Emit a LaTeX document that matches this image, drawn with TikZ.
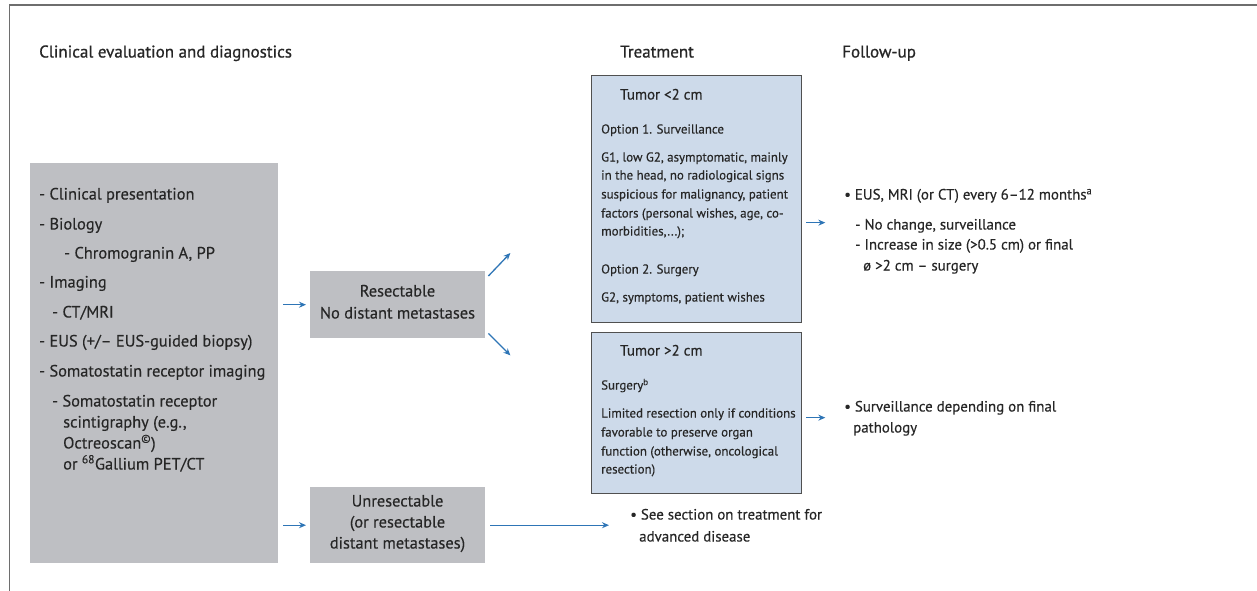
\documentclass[tikz,border=0pt]{standalone}
\usepackage{fontspec}
\setmainfont{PT Sans}[FakeBold=0.35]
\newfontfamily\hdrfont{PT Sans}[FakeBold=0.8]
\usetikzlibrary{arrows.meta}
\definecolor{txt}{HTML}{262626}
\definecolor{greyfill}{HTML}{BEBFC3}
\definecolor{bluefill}{HTML}{CDDAEA}
\definecolor{boxline}{HTML}{505050}
\definecolor{arrblue}{HTML}{2E75B6}
\definecolor{framec}{HTML}{6E6E6E}
\tikzset{
  greybox/.style={fill=greyfill, draw=none, anchor=north west, inner sep=0pt},
  bluebox/.style={fill=bluefill, draw=boxline, line width=1.3pt, anchor=north west, inner sep=0pt},
  lt/.style={anchor=mid west, inner sep=0pt, text=txt},
  hdrtxt/.style={lt, font=\hdrfont\fontsize{17}{20}\selectfont},
  lefttxt/.style={lt, font=\fontsize{16.4}{19}\selectfont},
  ctrtxt/.style={anchor=mid, inner sep=0pt, text=txt, font=\fontsize{16.4}{19}\selectfont},
  titletxt/.style={lt, font=\fontsize{14.9}{17}\selectfont},
  boxtxt/.style={lt, font=\fontsize{12.9}{15}\selectfont},
  futxt/.style={lt, font=\fontsize{14.9}{17}\selectfont},
  arr/.style={draw=arrblue, line width=1.3pt, -{Stealth[length=7pt,width=6pt]}},
  framestyle/.style={draw=framec, line width=1.5pt}
}
\begin{document}
\begin{tikzpicture}[x=1pt,y=-1pt]
\useasboundingbox (0,0) rectangle (1257,591);
% frame
\draw[framestyle] (9.5,591) -- (9.5,5) -- (1257,5);

% headers
\node[hdrtxt] (h1) at (39,55) {Clinical evaluation and diagnostics};
\node[hdrtxt] (h2) at (620,55) {Treatment};
\node[hdrtxt] (h3) at (842,55) {Follow-up};

% boxes
\node[greybox, minimum width=248pt, minimum height=400pt] (diag) at (30,163) {};
\node[greybox, minimum width=175pt, minimum height=67pt] (res) at (310,271) {};
\node[greybox, minimum width=175pt, minimum height=76pt] (unres) at (310,487) {};
\node[bluebox, minimum width=210pt, minimum height=247pt] (tsmall) at (591,75) {};
\node[bluebox, minimum width=210pt, minimum height=161pt] (tlarge) at (591,332) {};

% left box text
\node[lefttxt] (l1) at (39,197) {- Clinical presentation};
\node[lefttxt] (l2) at (39,227) {- Biology};
\node[lefttxt] (l3) at (64,256) {- Chromogranin A, PP};
\node[lefttxt] (l4) at (39,285) {- Imaging};
\node[lefttxt] (l5) at (52,315) {- CT/MRI};
\node[lefttxt] (l6) at (39,344) {- EUS (+/– EUS-guided biopsy)};
\node[lefttxt] (l7) at (39,374) {- Somatostatin receptor imaging};
\node[lefttxt] (l8) at (52,404) {- Somatostatin receptor};
\node[lefttxt] (l9) at (63,425) {scintigraphy (e.g.,};
\node[lefttxt] (l10) at (63,446) {Octreoscan\textsuperscript{©})};
\node[lefttxt] (l11) at (63,467) {or \textsuperscript{68}Gallium PET/CT};

% resectable / unresectable text
\node[ctrtxt] (r1) at (397.5,294) {Resectable};
\node[ctrtxt] (r2) at (397.5,316) {No distant metastases};
\node[ctrtxt] (u1) at (397.5,504) {Unresectable};
\node[ctrtxt] (u2) at (397.5,525) {(or resectable};
\node[ctrtxt] (u3) at (397.5,546) {distant metastases)};

% tumor < 2 cm box text
\node[titletxt] (s0) at (620,97) {Tumor <2 cm};
\node[boxtxt] (s1) at (601,131) {Option 1. Surveillance};
\node[boxtxt] (s2) at (601,159) {G1, low G2, asymptomatic, mainly};
\node[boxtxt] (s3) at (601,177) {in the head, no radiological signs};
\node[boxtxt] (s4) at (601,196) {suspicious for malignancy, patient};
\node[boxtxt] (s5) at (601,215) {factors (personal wishes, age, co-};
\node[boxtxt] (s6) at (601,233) {morbidities,...);};
\node[boxtxt] (s7) at (601,271) {Option 2. Surgery};
\node[boxtxt] (s8) at (601,299) {G2, symptoms, patient wishes};

% tumor > 2 cm box text
\node[titletxt] (g0) at (620,353) {Tumor >2 cm};
\node[boxtxt] (g1) at (601,387) {Surgery\textsuperscript{b}};
\node[boxtxt] (g2) at (601,415) {Limited resection only if conditions};
\node[boxtxt] (g3) at (601,434) {favorable to preserve organ};
\node[boxtxt] (g4) at (601,453) {function (otherwise, oncological};
\node[boxtxt] (g5) at (601,471) {resection)};

% follow-up text
\node[futxt] (f1) at (844,197) {• EUS, MRI (or CT) every 6–12 months\textsuperscript{a}};
\node[futxt] (f2) at (855,227) {- No change, surveillance};
\node[futxt] (f3) at (855,247) {- Increase in size (>0.5 cm) or final};
\node[futxt] (f4) at (863,268) {ø >2 cm – surgery};
\node[futxt] (p1) at (844,409) {• Surveillance depending on final};
\node[futxt] (p2) at (853,430) {pathology};
\node[futxt] (a1) at (630,517) {• See section on treatment for};
\node[futxt] (a2) at (639,539) {advanced disease};

% connectors
\draw[arr] ([xshift=5pt]diag.east |- res.west) -- ([xshift=-4pt]res.west);
\draw[arr] ([xshift=5pt]diag.east |- unres.west) -- ([xshift=-4pt]unres.west);
\draw[arr] ([shift={(3pt,-5pt)}]res.north east) -- ([shift={(25pt,18pt)}]res.north east);
\draw[arr] ([shift={(3pt,5pt)}]res.south east) -- ([shift={(25pt,-17pt)}]res.south east);
\draw[arr] ([shift={(4pt,-23.5pt)}]tsmall.east) -- ([shift={(23pt,-23.5pt)}]tsmall.east);
\draw[arr] ([shift={(4pt,-4.5pt)}]tlarge.east) -- ([shift={(23pt,-4.5pt)}]tlarge.east);
\draw[arr] ([xshift=5pt]unres.east) -- ([xshift=-21pt]a1.west |- unres.east);
\end{tikzpicture}
\end{document}
